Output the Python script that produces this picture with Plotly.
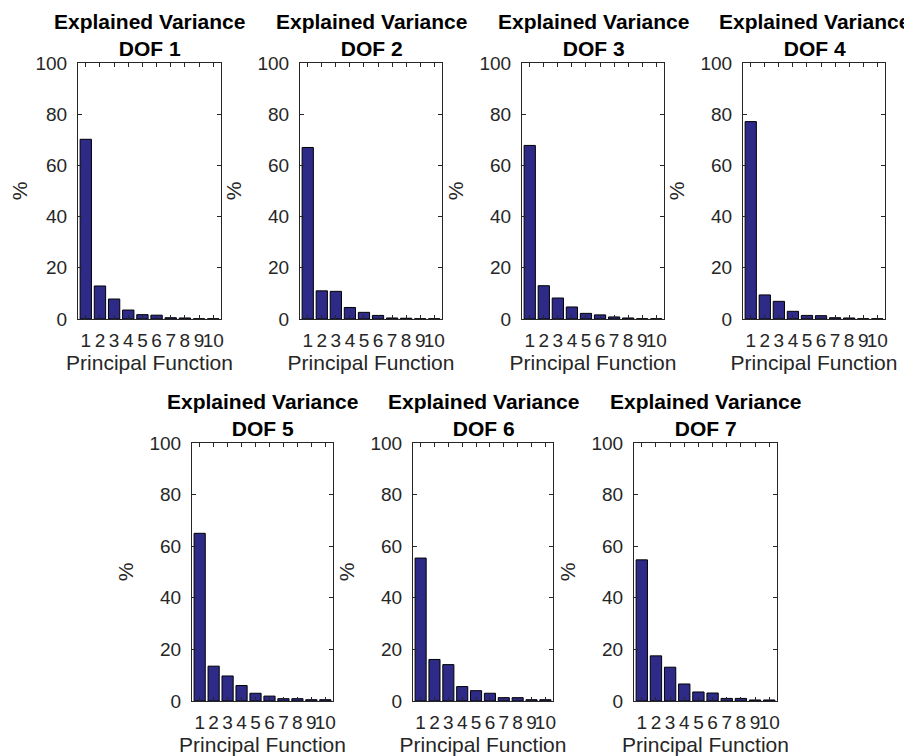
import plotly.graph_objects as go

components = [1, 2, 3, 4, 5, 6, 7, 8, 9, 10]
dof_names = ["DOF 1", "DOF 2", "DOF 3", "DOF 4", "DOF 5", "DOF 6", "DOF 7"]
dof1 = [70.2, 12.9, 7.8, 3.5, 1.7, 1.5, 0.5, 0.4, 0.1, 0.1]
dof2 = [67.0, 11.0, 10.8, 4.5, 2.6, 1.4, 0.4, 0.3, 0.1, 0.1]
dof3 = [67.8, 13.0, 8.2, 4.7, 2.2, 1.6, 0.8, 0.4, 0.1, 0.1]
dof4 = [77.1, 9.4, 6.9, 3.0, 1.4, 1.3, 0.5, 0.4, 0.1, 0.1]
dof5 = [65.0, 13.5, 9.7, 6.0, 3.0, 1.9, 0.9, 0.9, 0.5, 0.5]
dof6 = [55.4, 16.1, 14.1, 5.6, 4.0, 3.0, 1.3, 1.3, 0.5, 0.5]
dof7 = [54.7, 17.5, 13.1, 6.6, 3.5, 3.1, 1.0, 1.0, 0.4, 0.4]
y_ticks = [0, 20, 40, 60, 80, 100]

series = [dof1, dof2, dof3, dof4, dof5, dof6, dof7]

# page body has an 8px default margin; work in page pixels and subtract it
OFF = 8
W, H = 912 - OFF, 756 - OFF
# pixel boxes in page coordinates (left, right, top, bottom)
boxes = [
    (78, 221, 63, 319),
    (300, 442, 63, 319),
    (522, 664, 63, 319),
    (743, 885, 63, 319),
    (192, 333, 443, 701),
    (413, 553, 443, 701),
    (634, 777, 443, 701),
]

FONT = "Liberation Sans, Arial, Helvetica, sans-serif"
AX = "#262626"
BAR = "#2e2a88"

fig = go.Figure()
layout = dict(
    width=W, height=H,
    margin=dict(l=0, r=0, t=0, b=0, autoexpand=False),
    paper_bgcolor="white", plot_bgcolor="white",
    showlegend=False,
    font=dict(family=FONT, color=AX, size=19),
    annotations=[],
    bargap=0.2,
)

for i, (vals, name, box) in enumerate(zip(series, dof_names, boxes)):
    k = "" if i == 0 else str(i + 1)
    l, r, t, b = [v - OFF for v in box]
    fig.add_trace(go.Bar(
        x=components, y=vals, xaxis="x" + k, yaxis="y" + k,
        marker=dict(color=BAR, line=dict(color="black", width=1)),
        width=0.8, name=name,
    ))
    layout["xaxis" + k] = dict(
        domain=[l / W, r / W], anchor="y" + k, range=[0.45, 10.55],
        tickvals=components, ticktext=[str(c) for c in components],
        tickangle=0, automargin=False,
        ticks="inside", ticklen=4, tickcolor=AX, tickwidth=1,
        showline=True, linecolor=AX, linewidth=1, mirror="ticks",
        showgrid=False, zeroline=False, fixedrange=True,
        tickfont=dict(size=19, color=AX), ticklabelstandoff=4,
        title=dict(text="Principal Function", font=dict(size=21, color=AX), standoff=1),
    )
    layout["yaxis" + k] = dict(
        domain=[1 - b / H, 1 - t / H], anchor="x" + k, range=[0, 100],
        tickvals=y_ticks, automargin=False,
        ticks="inside", ticklen=4, tickcolor=AX, tickwidth=1,
        showline=True, linecolor=AX, linewidth=1, mirror="ticks",
        showgrid=False, zeroline=False, fixedrange=True,
        tickfont=dict(size=19, color=AX), ticklabelstandoff=6,
        title=dict(text="%", font=dict(size=21, color=AX), standoff=10),
    )
    layout["annotations"].append(dict(
        text="<b>Explained Variance</b><br><b>%s</b>" % name,
        x=(l + r) / 2 / W, y=1 - (t - 1) / H, xref="paper", yref="paper",
        xanchor="center", yanchor="bottom", showarrow=False,
        font=dict(size=21, color="black", family=FONT),
    ))

fig.update_layout(**layout)
fig.write_html("out.html")
